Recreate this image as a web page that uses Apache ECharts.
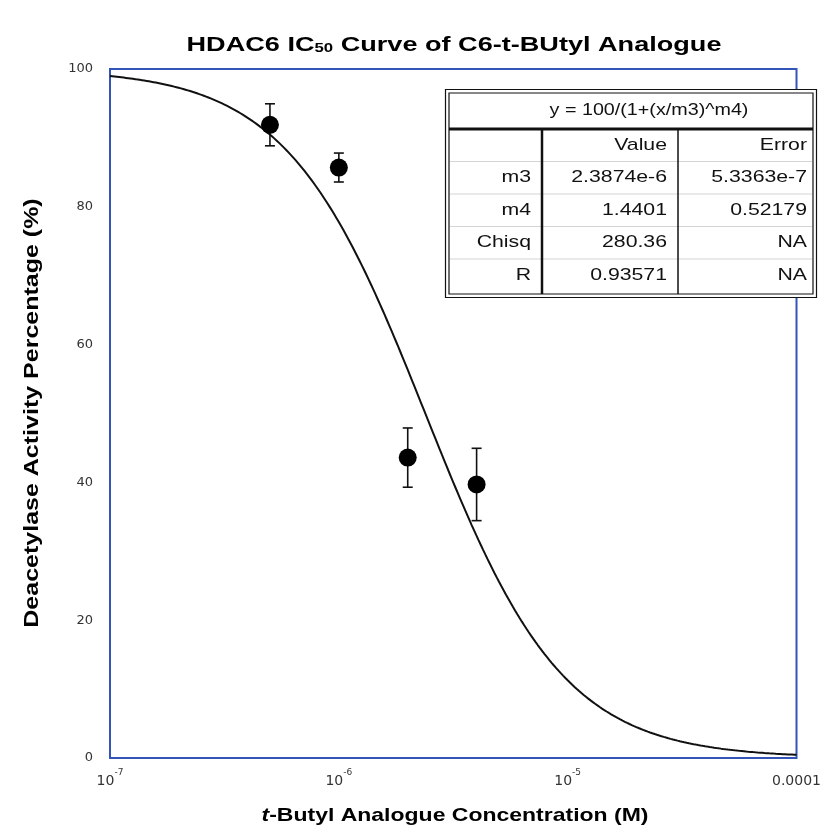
<!DOCTYPE html>
<html>
<head>
<meta charset="utf-8">
<title>HDAC6 IC50 Curve</title>
<script src="https://cdn.jsdelivr.net/npm/echarts@6/dist/echarts.min.js"></script>
<style>
  html, body { margin: 0; padding: 0; background: #ffffff; }
  #chart { width: 824px; height: 837px; }
</style>
</head>
<body>
<div id="chart"></div>
<script>
// Measured inhibition data (concentration in M, activity in %)
const concM = [5e-7, 1e-6, 2e-6, 4e-6];
const activityPct = [91.9, 85.7, 43.6, 39.7];
const activityErr = [3.05, 2.1, 4.3, 5.25];

// Fitted dose-response parameters: y = 100/(1+(x/m3)^m4)
const m3 = 2.3874e-6;
const m4 = 1.4401;

// Fit summary table
const fitEquation = 'y = 100/(1+(x/m3)^m4)';
const fitColHeads = ['Value', 'Error'];
const fitParamNames = ['m3', 'm4', 'Chisq', 'R'];
const fitParamValues = ['2.3874e-6', '1.4401', '280.36', '0.93571'];
const fitParamErrors = ['5.3363e-7', '0.52179', 'NA', 'NA'];

// Axis tick labels
const xTickLabels = ['{b|10}{s|-7}', '{b|10}{s|-6}', '{b|10}{s|-5}', '{b|0.0001}'];
const yTickValues = [0, 20, 40, 60, 80, 100];

const FRAME = '#3354b8';
const SANS = '"Liberation Sans", Arial, Helvetica, sans-serif';

// Fit curve sampled evenly in log space
const curvePts = [];
for (let i = 0; i <= 300; i++) {
  const lx = -7 + 3 * i / 300;
  const x = Math.pow(10, lx);
  curvePts.push([x, 100 / (1 + Math.pow(x / m3, m4))]);
}

const points = concM.map((c, i) => [c, activityPct[i]]);
const errData = concM.map((c, i) => [c, activityPct[i], activityErr[i]]);

const chart = echarts.init(document.getElementById('chart'), null, { renderer: 'canvas' });

// Table drawn as graphic elements
const T = { x0: 445, x1: 817, y0: 89, y1: 298, headBot: 129, c1: 542, c2: 678, rowH: 32.5 };
const tableEls = [];
tableEls.push({ type: 'rect', shape: { x: T.x0 + 0.5, y: T.y0 + 0.5, width: T.x1 - T.x0 - 1, height: T.y1 - T.y0 - 1 },
  style: { fill: '#fff', stroke: '#111', lineWidth: 1.2 }, z: 10 });
tableEls.push({ type: 'rect', shape: { x: T.x0 + 4, y: T.y0 + 4, width: T.x1 - T.x0 - 8, height: T.y1 - T.y0 - 8 },
  style: { fill: 'none', stroke: '#111', lineWidth: 1.2 }, z: 10 });
tableEls.push({ type: 'line', shape: { x1: T.x0 + 4, y1: T.headBot, x2: T.x1 - 4, y2: T.headBot },
  style: { stroke: '#111', lineWidth: 3 }, z: 11 });
for (let r = 1; r <= 4; r++) {
  const yy = T.headBot + r * T.rowH;
  tableEls.push({ type: 'line', shape: { x1: T.x0 + 5, y1: yy, x2: T.x1 - 5, y2: yy },
    style: { stroke: '#d4d4d4', lineWidth: 1 }, z: 10 });
}
tableEls.push({ type: 'line', shape: { x1: T.c1, y1: T.headBot, x2: T.c1, y2: T.y1 - 4 },
  style: { stroke: '#111', lineWidth: 2.5 }, z: 11 });
tableEls.push({ type: 'line', shape: { x1: T.c2, y1: T.headBot, x2: T.c2, y2: T.y1 - 4 },
  style: { stroke: '#111', lineWidth: 1.5 }, z: 11 });

const cellText = (txt, x, y, align, sx) => ({
  type: 'text', x: x, y: y, scaleX: sx || 1.25, z: 12,
  style: { text: txt, font: '17px ' + SANS, fill: '#111', align: align, verticalAlign: 'middle' }
});
tableEls.push(cellText(fitEquation, (T.x0 + T.x1) / 2 + 18, (T.y0 + T.headBot) / 2 + 1.5, 'center', 1.16));
const rowMid = (r) => T.headBot + (r + 0.5) * T.rowH;
tableEls.push(cellText(fitColHeads[0], T.c2 - 11, rowMid(0), 'right'));
tableEls.push(cellText(fitColHeads[1], T.x1 - 10, rowMid(0), 'right'));
fitParamNames.forEach((n, i) => {
  tableEls.push(cellText(n, T.c1 - 11, rowMid(i + 1), 'right'));
  tableEls.push(cellText(fitParamValues[i], T.c2 - 11, rowMid(i + 1), 'right'));
  tableEls.push(cellText(fitParamErrors[i], T.x1 - 10, rowMid(i + 1), 'right'));
});

const option = {
  backgroundColor: '#ffffff',
  animation: false,
  grid: {
    left: 110, top: 69, right: 26, bottom: 79,
    show: true, borderColor: FRAME, borderWidth: 2, backgroundColor: 'transparent'
  },
  xAxis: {
    type: 'log', logBase: 10, min: 1e-7, max: 1e-4,
    axisLine: { show: false },
    axisTick: { show: false },
    splitLine: { show: false },
    minorTick: { show: false },
    axisLabel: {
      margin: 10,
      formatter: (v) => xTickLabels[Math.round(Math.log10(v)) + 7] || '',
      rich: {
        b: { fontFamily: 'DejaVu Sans', fontSize: 14, color: '#333', lineHeight: 20, verticalAlign: 'bottom' },
        s: { fontFamily: 'DejaVu Sans', fontSize: 9, color: '#333', lineHeight: 14, verticalAlign: 'top' }
      }
    }
  },
  yAxis: {
    type: 'value', min: 0, max: 100, interval: 20,
    axisLine: { show: false },
    axisTick: { show: false },
    splitLine: { show: false },
    axisLabel: {
      margin: 17, fontFamily: 'DejaVu Sans', fontSize: 13, color: '#333',
      formatter: (v) => (yTickValues.indexOf(v) >= 0 ? String(v) : '')
    }
  },
  graphic: [
    {
      type: 'text', x: 454, y: 45, scaleX: 1.29,
      style: {
        text: '{t|HDAC6 IC}{sub|50}{t| Curve of C6-t-BUtyl Analogue}',
        align: 'center', verticalAlign: 'middle',
        rich: {
          t: { font: 'bold 21px ' + SANS, fill: '#000', lineHeight: 26, verticalAlign: 'middle' },
          sub: { font: 'bold 13px ' + SANS, fill: '#000', lineHeight: 26, verticalAlign: 'bottom', padding: [0, 0, 3, 0] }
        }
      }
    },
    {
      type: 'text', x: 32, y: 413, rotation: Math.PI / 2, scaleX: 1.25,
      style: {
        text: 'Deacetylase Activity Percentage (%)',
        font: 'bold 20px ' + SANS, fill: '#000', align: 'center', verticalAlign: 'middle'
      }
    },
    {
      type: 'text', x: 455, y: 816, scaleX: 1.21,
      style: {
        text: '{i|t}{n|-Butyl Analogue Concentration (M)}',
        align: 'center', verticalAlign: 'middle',
        rich: {
          i: { font: 'italic bold 19px ' + SANS, fill: '#000' },
          n: { font: 'bold 19px ' + SANS, fill: '#000' }
        }
      }
    },
    { type: 'group', children: tableEls }
  ],
  series: [
    {
      name: 'Fit', type: 'line', data: curvePts, showSymbol: false, smooth: false,
      lineStyle: { color: '#111', width: 2 }, z: 2, silent: true
    },
    {
      name: 'Error', type: 'custom', data: errData, z: 3,
      renderItem: (params, api) => {
        const x = api.value(0), y = api.value(1), e = api.value(2);
        const hi = api.coord([x, y + e]);
        const lo = api.coord([x, y - e]);
        const w = 5;
        const st = { stroke: '#111', lineWidth: 1.6 };
        return {
          type: 'group',
          children: [
            { type: 'line', shape: { x1: hi[0], y1: hi[1], x2: lo[0], y2: lo[1] }, style: st },
            { type: 'line', shape: { x1: hi[0] - w, y1: hi[1], x2: hi[0] + w, y2: hi[1] }, style: st },
            { type: 'line', shape: { x1: lo[0] - w, y1: lo[1], x2: lo[0] + w, y2: lo[1] }, style: st }
          ]
        };
      }
    },
    {
      name: 'Activity', type: 'scatter', data: points, symbol: 'circle', symbolSize: 18,
      itemStyle: { color: '#000', opacity: 1 }, z: 4
    }
  ]
};

chart.setOption(option);
</script>
</body>
</html>
